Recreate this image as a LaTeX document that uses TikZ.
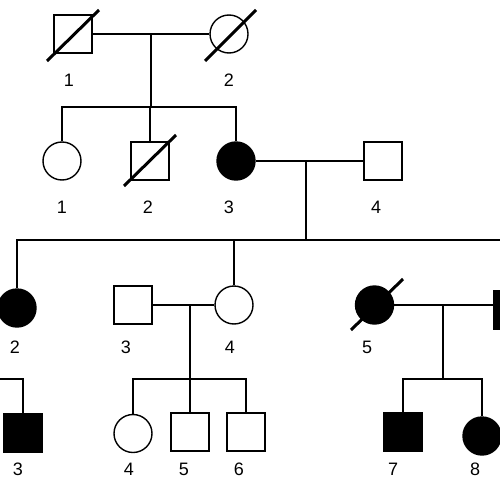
\documentclass[tikz,border=0pt]{standalone}
\usepackage{fontspec}
\setmainfont{Liberation Sans}
\begin{document}
\begin{tikzpicture}[x=1pt,y=-1pt,
  male/.style={draw, rectangle, minimum size=38pt, inner sep=0pt, line width=1.4pt},
  female/.style={draw, circle, minimum size=38pt, inner sep=0pt, line width=1.4pt},
  aff/.style={fill=black},
  lbl/.style={font=\fontsize{18}{18}\selectfont, inner sep=0pt},
  ln/.style={line width=1.4pt},
  dec/.style={line width=3pt}]
\useasboundingbox (0,0) rectangle (500,500);
\clip (0,0) rectangle (500,500);
% Generation I
\node[male] (I1) at (73,34) {};
\node[female] (I2) at (229,34) {};
\draw[dec] (47,61) -- (99,10);
\draw[dec] (205,61) -- (256,10);
\node[lbl] (lI1) at (69,80) {1};
\node[lbl] (lI2) at (229,80) {2};
\draw[ln] (I1.east) -- (I2.west);
\coordinate (mI) at (151,34);
\coordinate (sII) at (151,107);
\draw[ln] (mI) -- (sII);
% Generation II
\node[female] (II1) at (62,161) {};
\node[male] (II2) at (150,161) {};
\node[female,aff] (II3) at (236,161) {};
\node[male] (II4) at (383,161) {};
\draw[dec] (124,186) -- (176,135);
\draw[ln] (II1.north) -- (II1.north |- sII) -- (II3.north |- sII) -- (II3.north);
\draw[ln] (II2.north) -- (II2.north |- sII);
\draw[ln] (II3.east) -- (II4.west);
\node[lbl] (lII1) at (62,207) {1};
\node[lbl] (lII2) at (148,207) {2};
\node[lbl] (lII3) at (229,207) {3};
\node[lbl] (lII4) at (376,207) {4};
\coordinate (mII) at (306,161);
\coordinate (sIII) at (306,240);
\draw[ln] (mII) -- (sIII);
% Generation III
\node[female,aff] (III2) at (17,308) {};
\node[male] (III3) at (133,305) {};
\node[female] (III4) at (234,305) {};
\node[female,aff] (III5) at (374.5,305) {};
\node[male,aff] (III6) at (513,310) {};
\draw[dec] (351,330) -- (403,279);
\coordinate (sIIIe) at (502,240);
\draw[ln] (III2.north) -- (III2.north |- sIII) -- (sIIIe);
\draw[ln] (III4.north) -- (III4.north |- sIII);
\draw[ln] (III3.east) -- (III4.west);
\draw[ln] (III5.east) -- (III5.east -| III6.west);
\node[lbl] (lIII2) at (15,347) {2};
\node[lbl] (lIII3) at (126,347) {3};
\node[lbl] (lIII4) at (230,347) {4};
\node[lbl] (lIII5) at (367,347) {5};
\coordinate (mIIIa) at (190,305);
\coordinate (sIVa) at (190,379);
\draw[ln] (mIIIa) -- (sIVa);
\coordinate (mIIIb) at (443,305);
\coordinate (sIVb) at (443,379);
\draw[ln] (mIIIb) -- (sIVb);
% Generation IV
\node[male,aff] (IV3) at (23,433) {};
\node[female] (IV4) at (133,433.5) {};
\node[male] (IV5) at (190,432) {};
\node[male] (IV6) at (246,432) {};
\node[male,aff] (IV7) at (403,432) {};
\node[female,aff] (IV8) at (482,436) {};
\coordinate (sIVl) at (-2,379);
\draw[ln] (sIVl) -- (IV3.north |- sIVl) -- (IV3.north);
\draw[ln] (IV4.north) -- (IV4.north |- sIVa) -- (IV6.north |- sIVa) -- (IV6.north);
\draw[ln] (IV5.north) -- (IV5.north |- sIVa);
\draw[ln] (IV7.north) -- (IV7.north |- sIVb) -- (IV8.north |- sIVb) -- (IV8.north);
\node[lbl] (lIV3) at (18,469) {3};
\node[lbl] (lIV4) at (129,469) {4};
\node[lbl] (lIV5) at (184,469) {5};
\node[lbl] (lIV6) at (239,469) {6};
\node[lbl] (lIV7) at (393,469) {7};
\node[lbl] (lIV8) at (475,469) {8};
\end{tikzpicture}
\end{document}
